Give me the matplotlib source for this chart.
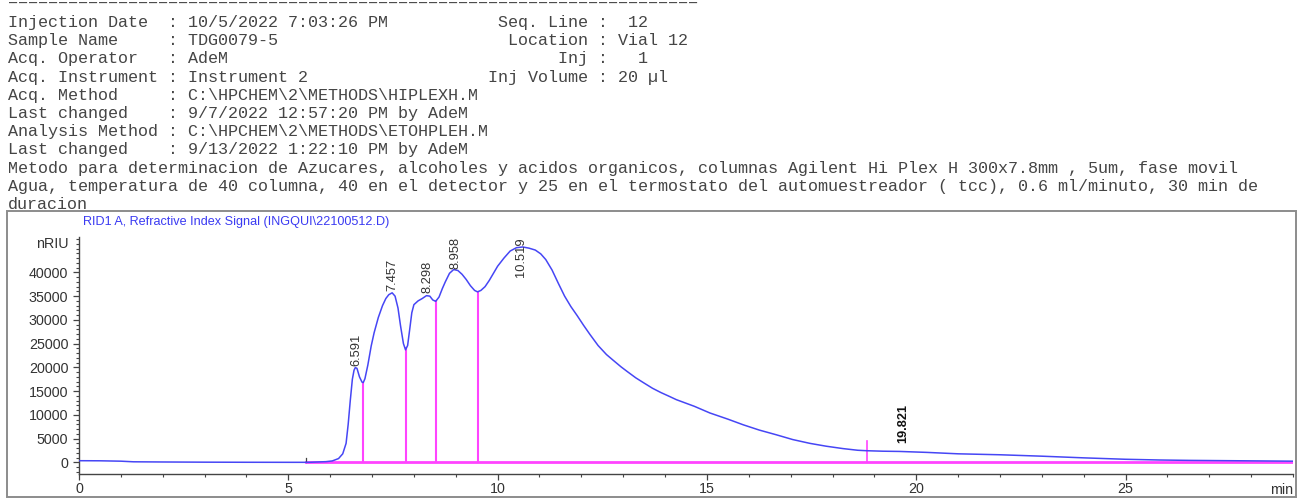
import numpy as np
import matplotlib
matplotlib.use('Agg')
import matplotlib.pyplot as plt
from matplotlib.patches import Rectangle
from matplotlib.ticker import MultipleLocator

# report header (left column / right column)
header_left = [
    ('Injection Date', '10/5/2022 7:03:26 PM'),
    ('Sample Name', 'TDG0079-5'),
    ('Acq. Operator', 'AdeM'),
    ('Acq. Instrument', 'Instrument 2'),
    ('Acq. Method', 'C:\\HPCHEM\\2\\METHODS\\HIPLEXH.M'),
    ('Last changed', '9/7/2022 12:57:20 PM by AdeM'),
    ('Analysis Method', 'C:\\HPCHEM\\2\\METHODS\\ETOHPLEH.M'),
    ('Last changed', '9/13/2022 1:22:10 PM by AdeM'),
]
header_right = [
    ('Seq. Line', ' 12'),
    ('Location', 'Vial 12'),
    ('Inj', '  1'),
    ('Inj Volume', '20 µl'),
]
method_notes = [
    'Metodo para determinacion de Azucares, alcoholes y acidos organicos, columnas Agilent Hi Plex H 300x7.8mm , 5um, fase movil',
    'Agua, temperatura de 40 columna, 40 en el detector y 25 en el termostato del automuestreador ( tcc), 0.6 ml/minuto, 30 min de',
    'duracion',
]
signal_title = 'RID1 A, Refractive Index Signal (INGQUI\\22100512.D)'

# chromatogram trace (min, nRIU)
time_min = [0.0, 0.5, 1.0, 1.3, 2.0, 3.0, 4.0, 5.0, 5.5, 5.9, 6.05, 6.2, 6.3, 6.38,
            6.43, 6.48, 6.53, 6.57, 6.6, 6.64, 6.7, 6.76, 6.79, 6.83, 6.9, 6.98,
            7.05, 7.15, 7.25, 7.33, 7.4, 7.48, 7.55, 7.62, 7.68, 7.75, 7.8, 7.85,
            7.9, 7.95, 8.0, 8.1, 8.2, 8.3, 8.38, 8.45, 8.52, 8.6, 8.68, 8.75, 8.85,
            8.95, 9.05, 9.15, 9.25, 9.35, 9.45, 9.52, 9.6, 9.7, 9.8, 9.9, 10.0,
            10.15, 10.3, 10.45, 10.6, 10.75, 10.9, 11.03, 11.15, 11.3, 11.45, 11.6,
            11.75, 11.9, 12.05, 12.2, 12.4, 12.6, 12.76, 12.95, 13.1, 13.3, 13.48,
            13.7, 13.9, 14.1, 14.27, 14.7, 15.07, 15.5, 15.87, 16.25, 16.66, 17.05,
            17.46, 17.85, 18.25, 18.6, 18.82, 19.2, 19.6, 20.25, 21.0, 22.0, 23.0,
            24.0, 25.0, 25.8, 26.5, 27.5, 29.0]
signal = [350, 330, 250, 120, 80, 40, 20, 10, 10, 150, 300, 800, 1800, 4000,
          8000, 13000, 17500, 19400, 19950, 19800, 18000, 16900, 16800, 17600, 20500, 24500,
          27300, 30500, 33000, 34500, 35300, 35700, 35000, 32500, 28800, 25000, 23700, 24600,
          28000, 31500, 33200, 34000, 34500, 35100, 35000, 34200, 33900, 34800, 36600, 38000, 39800,
          40600, 40400, 39600, 38500, 37200, 36200, 35900, 36200, 37000, 38300, 39800, 41300,
          43000, 44500, 45200, 45350, 45100, 44700, 43900, 42700, 40500, 37700, 35000,
          32800, 30900, 28900, 27000, 24600, 22700, 21500, 20100, 19100, 17800, 16800,
          15600, 14700, 13900, 13200, 11800, 10400, 9100, 7900, 6800, 5800, 4800,
          4000, 3400, 2900, 2550, 2450, 2350, 2300, 2100, 1800, 1600, 1300,
          950, 650, 500, 420, 350, 250]

peak_rt = [6.591, 7.457, 8.298, 8.958, 10.519]
drop_lines = [6.79, 7.82, 8.52, 9.52]
baseline_start = 5.43
last_peak_rt = 19.821
last_peak_mark = 18.82
last_peak_mark_top = 4600

x_max = 29.0
y_lim = (-2450, 47450)

W, H = 1301, 498
fig = plt.figure(figsize=(W / 100, H / 100), dpi=100)

# ---- text header in monospace ----
mono = dict(family='Liberation Mono', size=12.06, color='#454545')
x0 = 8 / W
row0, row_step = 27, 18.2
fig.text(x0, 1 - 7 / H, '=' * 69, va='baseline', **mono)
lines = []
for i, (k, v) in enumerate(header_left):
    s = f'{k:<15} : {v}'
    if i < len(header_right):
        rk, rv = header_right[i]
        s = s.ljust(40) + rk.rjust(18) + ' : ' + rv
    lines.append(s)
lines += method_notes
for i, s in enumerate(lines):
    fig.text(x0, 1 - (row0 + i * row_step) / H, s, va='baseline', **mono)

# frame round the signal panel
fig.add_artist(Rectangle((7 / W, 1 - 497 / H), (1296 - 7) / W, (497 - 211) / H,
                         transform=fig.transFigure, fill=False, ec='#8c8c8c', lw=1.4))
fig.text(83 / W, 1 - 222 / H, signal_title, family='Liberation Sans', size=9.1,
         color='#3b3bf2', va='center')

# ---- chromatogram ----
ax = fig.add_axes([79 / W, 1 - 474 / H, (1293 - 79) / W, (474 - 237) / H])
t = np.array(time_min)
y = np.array(signal)

pink = '#ff44ff'
ax.plot([baseline_start, x_max], [0, 0], color=pink, lw=2.0, zorder=2)
ax.plot([baseline_start, baseline_start], [0, 1000], color='#444444', lw=0.9, zorder=3)
for xd in drop_lines:
    ax.plot([xd, xd], [0, np.interp(xd, t, y)], color=pink, lw=1.5, zorder=2)
ax.plot([last_peak_mark, last_peak_mark], [0, last_peak_mark_top], color=pink, lw=1.2, zorder=2)
ax.plot(t, y, color='#4646f5', lw=1.1, zorder=4)

label_font = dict(family='Liberation Sans', size=9.3, color='#333333', rotation=90,
                  ha='center')
for rt in peak_rt:
    h = np.interp(rt, t, y)
    txt = f'{rt:.3f}'
    if h + 7000 > y_lim[1]:
        ax.text(rt + 0.03, y_lim[1], txt, va='top', zorder=5, **label_font)
    else:
        ax.text(rt + 0.03, h + 500, txt, va='bottom', zorder=5, **label_font)
ax.text(last_peak_rt - 0.12, 4000, f'{last_peak_rt:.3f}', va='bottom', rotation=90,
        ha='center', family='Liberation Sans', size=9.2, weight='bold', color='#111111')

ax.set_xlim(0, x_max)
ax.set_ylim(*y_lim)
ax.xaxis.set_major_locator(MultipleLocator(5))
ax.xaxis.set_minor_locator(MultipleLocator(1))
ax.set_yticks(np.arange(0, 40001, 5000))
ax.yaxis.set_minor_locator(MultipleLocator(1000))
for side in ('top', 'right'):
    ax.spines[side].set_visible(False)
for side in ('left', 'bottom'):
    ax.spines[side].set_color('#444444')
    ax.spines[side].set_linewidth(1.0)
ax.tick_params(which='major', length=4.5, width=0.9, color='#444444',
               labelsize=10.3, labelcolor='#333333')
ax.tick_params(which='minor', length=2.3, width=0.8, color='#444444')
ax.tick_params(axis='x', which='major', pad=1.5)
ax.tick_params(axis='y', which='major', pad=3.2)
for lab in ax.get_xticklabels() + ax.get_yticklabels():
    lab.set_family('Liberation Sans')

ax.annotate('nRIU', xy=(0, 46000), xycoords=('axes fraction', 'data'),
            xytext=(-10.5, 0), textcoords='offset pixels', ha='right', va='center',
            family='Liberation Sans', size=10.3, color='#333333')
ax.annotate('min', xy=(1, 0), xycoords='axes fraction', xytext=(0, -9),
            textcoords='offset pixels', ha='right', va='top',
            family='Liberation Sans', size=10.3, color='#333333')

fig.savefig('out.png', dpi=100, facecolor='white')
